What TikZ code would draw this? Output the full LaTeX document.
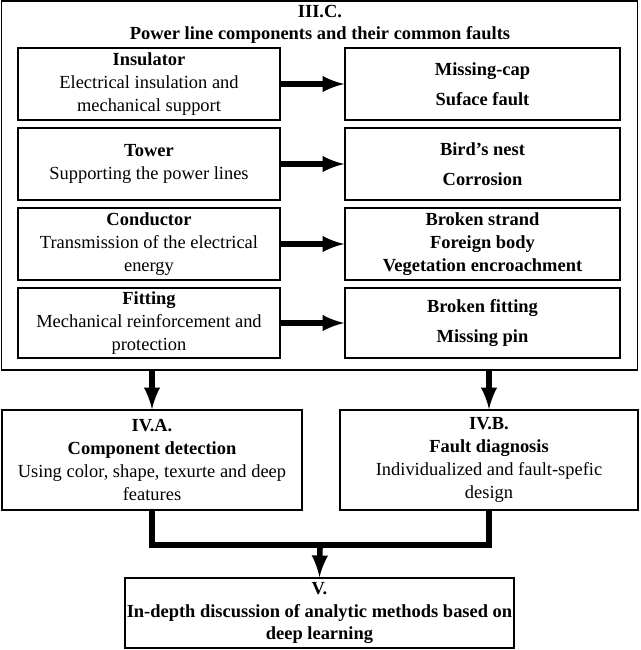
\documentclass[tikz,border=0pt]{standalone}
\usepackage{fontspec}
\setmainfont{Liberation Serif}
\usetikzlibrary{arrows}
\tikzset{
  box/.style={draw, line width=0.8pt, align=center, inner sep=1pt},
  fat/.style={line width=3.2pt, -latex},
}
\begin{document}
\fontsize{10.5}{13}\selectfont
\begin{tikzpicture}[x=0.02cm,y=-0.02cm]
\useasboundingbox (0,0) rectangle (640,650);

% section III.C
\node[box, minimum width=12.72cm, minimum height=7.38cm] (outer) at (319.5,185.5) {};
\node at (320,12) {\textbf{III.C.}};
\node at (320,35) {\textbf{Power line components and their common faults}};

\node[box, minimum width=5.24cm, minimum height=1.44cm] (ins) at (149,84) {\textbf{Insulator}\\Electrical insulation and\\mechanical support};
\node[box, minimum width=5.24cm, minimum height=1.44cm] (tow) at (149,164) {\textbf{Tower}\\Supporting the power lines};
\node[box, minimum width=5.24cm, minimum height=1.44cm] (con) at (149,244) {\textbf{Conductor}\\Transmission of the electrical\\energy};
\node[box, minimum width=5.24cm, minimum height=1.40cm] (fit) at (149,323) {\textbf{Fitting}\\Mechanical reinforcement and\\protection};

\node[box, minimum width=5.5cm, minimum height=1.44cm] (insF) at (482.5,84) {\textbf{Missing-cap}\\[4pt]\textbf{Suface fault}};
\node[box, minimum width=5.5cm, minimum height=1.44cm] (towF) at (482.5,164) {\textbf{Bird's nest}\\[4pt]\textbf{Corrosion}};
\node[box, minimum width=5.5cm, minimum height=1.44cm] (conF) at (482.5,244) {\textbf{Broken strand}\\\textbf{Foreign body}\\\textbf{Vegetation encroachment}};
\node[box, minimum width=5.5cm, minimum height=1.40cm] (fitF) at (482.5,323) {\textbf{Broken fitting}\\[4pt]\textbf{Missing pin}};

\draw[fat] (ins) -- (insF);
\draw[fat] (tow) -- (towF);
\draw[fat] (con) -- (conF);
\draw[fat] (fit) -- (fitF);

% sections IV
\node[box, minimum width=6.0cm, minimum height=2.0cm] (det) at (152,460) {\textbf{IV.A.}\\\textbf{Component detection}\\Using color, shape, texurte and deep\\features};
\node[box, minimum width=5.96cm, minimum height=2.0cm] (dia) at (489,460) {\textbf{IV.B.}\\\textbf{Fault diagnosis}\\Individualized and fault-spefic\\design};
\coordinate (o1) at (152,370);
\coordinate (o2) at (489,370);
\draw[fat] (o1) -- (det.north);
\draw[fat] (o2) -- (dia.north);

% section V
\node[box, minimum width=7.34cm, minimum height=1.4cm] (dis) at (319.5,613) {\textbf{V.}\\\textbf{In-depth discussion of analytic methods based on}\\\textbf{deep learning}};
\coordinate (j) at (320,545);
\draw[line width=3.2pt] (det.south) |- (j) -| (dia.south);
\draw[fat] (j) -- (dis.north);
\end{tikzpicture}
\end{document}
